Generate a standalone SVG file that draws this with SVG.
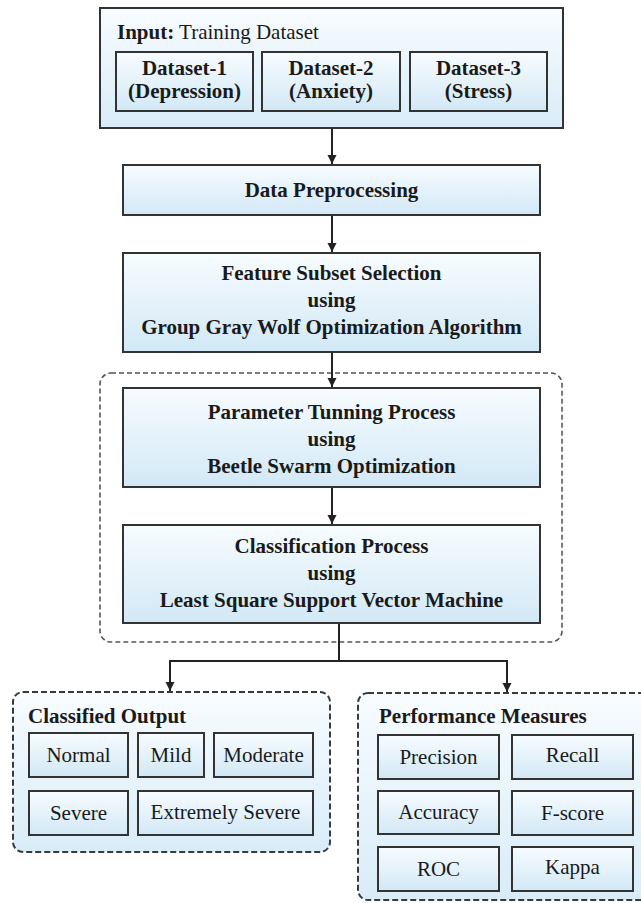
<svg xmlns="http://www.w3.org/2000/svg" width="641" height="903" viewBox="0 0 641 903">
<defs>
<linearGradient id="g" x1="0" y1="0" x2="0" y2="1">
<stop offset="0" stop-color="#f7fcff"/>
<stop offset="1" stop-color="#d2e8f6"/>
</linearGradient>
<linearGradient id="gc" x1="0" y1="0" x2="0" y2="1">
<stop offset="0" stop-color="#f8fcff"/>
<stop offset="1" stop-color="#d8ecf8"/>
</linearGradient>
<marker id="ah" markerWidth="10" markerHeight="10" refX="9" refY="5" orient="auto" markerUnits="userSpaceOnUse">
<path d="M0,0.5 L9,5 L0,9.5 Z" fill="#222"/>
</marker>
</defs>
<style>
.box{fill:url(#g);stroke:#333;stroke-width:2}
.cont{fill:url(#gc);stroke:#333;stroke-width:2}
.dash{fill:url(#gc);stroke:#3a3a3a;stroke-width:2;stroke-dasharray:6 3}
.dashw{fill:#fff;stroke:#555;stroke-width:1.6;stroke-dasharray:5 3}
text{font-family:'Liberation Serif',Tinos,'DejaVu Serif',serif;font-size:21px;fill:#1a1a1a}
.b{font-weight:bold}
.c{text-anchor:middle}
.ln{fill:none;stroke:#222;stroke-width:2}
</style>
<rect width="641" height="903" fill="#fff"/>

<g id="input">
<rect class="cont" x="100" y="8" width="463" height="120"/>
<text x="117" y="39"><tspan class="b">Input:</tspan> Training Dataset</text>
</g>
<g id="dataset1">
<rect class="box" x="116" y="52" width="137" height="59"/>
<text x="184.5" y="75" class="b c">Dataset-1</text>
<text x="184.5" y="98" class="b c">(Depression)</text>
</g>
<g id="dataset2">
<rect class="box" x="262" y="52" width="138" height="59"/>
<text x="331" y="75" class="b c">Dataset-2</text>
<text x="331" y="98" class="b c">(Anxiety)</text>
</g>
<g id="dataset3">
<rect class="box" x="410" y="52" width="137" height="59"/>
<text x="478.5" y="75" class="b c">Dataset-3</text>
<text x="478.5" y="98" class="b c">(Stress)</text>
</g>

<g id="preprocessing">
<rect class="box" x="123" y="165" width="417" height="50"/>
<text x="331.5" y="197" class="b c">Data Preprocessing</text>
</g>

<g id="feature">
<rect class="box" x="123" y="253" width="417" height="99"/>
<text x="331.5" y="280" class="b c">Feature Subset Selection</text>
<text x="331.5" y="307" class="b c">using</text>
<text x="331.5" y="334" class="b c">Group Gray Wolf Optimization Algorithm</text>
</g>

<g id="process-group">
<rect class="dashw" x="100" y="373" width="462" height="269" rx="11"/>
</g>

<g id="parameter">
<rect class="box" x="123" y="388" width="417" height="99"/>
<text x="331.5" y="419" class="b c">Parameter Tunning Process</text>
<text x="331.5" y="446" class="b c">using</text>
<text x="331.5" y="473" class="b c">Beetle Swarm Optimization</text>
</g>

<g id="classification">
<rect class="box" x="123" y="525" width="417" height="98"/>
<text x="331.5" y="553" class="b c">Classification Process</text>
<text x="331.5" y="580" class="b c">using</text>
<text x="331.5" y="607" class="b c">Least Square Support Vector Machine</text>
</g>

<g id="classified-output">
<rect class="dash" x="13" y="692" width="317" height="160" rx="10"/>
<text x="28" y="723" class="b">Classified Output</text>
</g>
<g id="normal"><rect class="box" x="29" y="733" width="99" height="44"/><text x="78.5" y="762" class="c">Normal</text></g>
<g id="mild"><rect class="box" x="138" y="733" width="66" height="44"/><text x="171" y="762" class="c">Mild</text></g>
<g id="moderate"><rect class="box" x="214" y="733" width="99" height="44"/><text x="263.5" y="762" class="c">Moderate</text></g>
<g id="severe"><rect class="box" x="29" y="791" width="99" height="44"/><text x="78.5" y="820" class="c">Severe</text></g>
<g id="extremely-severe"><rect class="box" x="138" y="791" width="175" height="44"/><text x="225.5" y="819" class="c">Extremely Severe</text></g>

<g id="performance">
<rect class="dash" x="358" y="693" width="295" height="207" rx="10"/>
<text x="379" y="723" class="b">Performance Measures</text>
</g>
<g id="precision"><rect class="box" x="378" y="735" width="121" height="44"/><text x="438.5" y="764" class="c">Precision</text></g>
<g id="recall"><rect class="box" x="512" y="735" width="121" height="44"/><text x="572.5" y="762" class="c">Recall</text></g>
<g id="accuracy"><rect class="box" x="378" y="791" width="121" height="43"/><text x="438.5" y="819" class="c">Accuracy</text></g>
<g id="fscore"><rect class="box" x="512" y="791" width="121" height="44"/><text x="572.5" y="820" class="c">F-score</text></g>
<g id="roc"><rect class="box" x="378" y="847" width="121" height="44"/><text x="438.5" y="876" class="c">ROC</text></g>
<g id="kappa"><rect class="box" x="512" y="847" width="121" height="44"/><text x="572.5" y="874" class="c">Kappa</text></g>

<g id="connectors">
<line class="ln" x1="332" y1="129" x2="332" y2="164" marker-end="url(#ah)"/>
<line class="ln" x1="332" y1="216" x2="332" y2="252" marker-end="url(#ah)"/>
<line class="ln" x1="332" y1="353" x2="332" y2="387" marker-end="url(#ah)"/>
<line class="ln" x1="332" y1="488" x2="332" y2="524" marker-end="url(#ah)"/>
<polyline class="ln" points="339,624 339,661 170,661 170,691" marker-end="url(#ah)"/>
<polyline class="ln" points="339,661 507,661 507,692" marker-end="url(#ah)"/>
</g>
</svg>
